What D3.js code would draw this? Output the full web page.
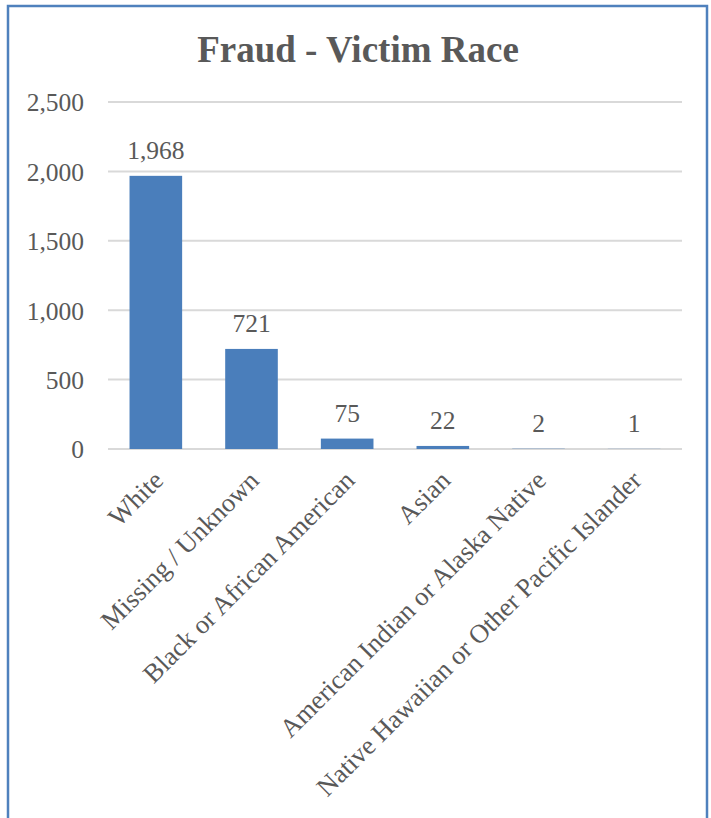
<!DOCTYPE html>
<html><head><meta charset="utf-8">
<script src="https://cdn.jsdelivr.net/npm/d3@7"></script>
<style>
html,body{margin:0;padding:0;background:#fff;}
svg{display:block;}
text{font-family:"Liberation Serif","Times New Roman",serif;fill:#595959;}
</style></head>
<body>
<script>
const title = "Fraud - Victim Race";
const categories = ["White","Missing / Unknown","Black or African American","Asian","American Indian or Alaska Native","Native Hawaiian or Other Pacific Islander"];
const values = [1968, 721, 75, 22, 2, 1];
const yTicks = [0, 500, 1000, 1500, 2000, 2500];

const W = 711, H = 818;
const svg = d3.select("body").append("svg").attr("width", W).attr("height", H);

// outer border
svg.append("rect").attr("x", 8).attr("y", 6).attr("width", 699).attr("height", 830)
  .attr("fill", "#fff").attr("stroke", "#4f81bd").attr("stroke-width", 2.5);

svg.append("text").attr("x", 358).attr("y", 62).attr("text-anchor", "middle")
  .style("font-size", "37px").style("font-weight", "bold").text(title);

const x = d3.scaleBand().domain(categories).range([108, 682]).paddingInner(0.45).paddingOuter(0.225);
const y = d3.scaleLinear().domain([0, 2500]).range([449, 102]);

// gridlines
svg.append("g").selectAll("line").data(yTicks).join("line")
  .attr("x1", 108).attr("x2", 682)
  .attr("y1", d => y(d)).attr("y2", d => y(d))
  .attr("stroke", "#d9d9d9").attr("stroke-width", 2);

// y axis labels
const yAxis = d3.axisLeft(y).tickValues(yTicks).tickSize(0).tickPadding(0).tickFormat(d3.format(","));
const gy = svg.append("g").attr("transform", "translate(84,0)").call(yAxis);
gy.select(".domain").remove();
gy.selectAll("text").style("font-size", "25.5px").style("font-family", '"Liberation Serif","Times New Roman",serif').attr("fill", "#595959").attr("dy", "0.35em");

// bars
svg.append("g").selectAll("rect").data(values).join("rect")
  .attr("x", (d, i) => x(categories[i]))
  .attr("width", x.bandwidth())
  .attr("y", d => y(d))
  .attr("height", d => y(0) - y(d))
  .attr("fill", "#4a7ebb");

// value labels
svg.append("g").selectAll("text").data(values).join("text")
  .attr("x", (d, i) => x(categories[i]) + x.bandwidth() / 2)
  .attr("y", d => y(d) - 17)
  .attr("text-anchor", "middle")
  .style("font-size", "25.5px")
  .text(d => d3.format(",")(d));

// category labels
svg.append("g").selectAll("text").data(categories).join("text")
  .attr("transform", d => `translate(${x(d) + x.bandwidth() / 2 + 9},${482}) rotate(-45)`)
  .attr("text-anchor", "end")
  .style("font-size", "26.5px")
  .text(d => d);
</script>
</body></html>
